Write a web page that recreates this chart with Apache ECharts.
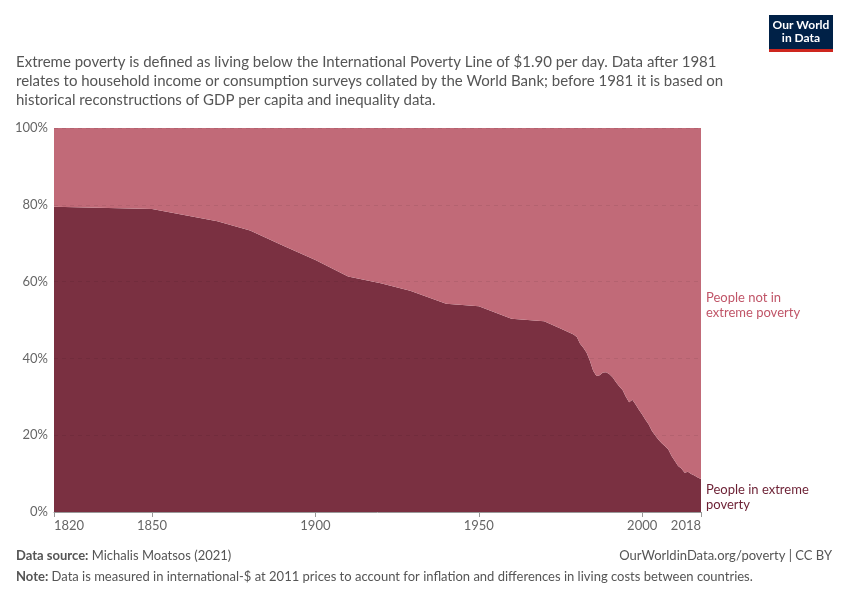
<!DOCTYPE html>
<html><head><meta charset="utf-8">
<script src="https://cdn.jsdelivr.net/npm/echarts@6/dist/echarts.min.js"></script>
<style>html,body{margin:0;padding:0;background:#fff}#c{width:850px;height:600px}</style>
</head><body><div id="c"></div>
<script>
const years = [1820,1850,1870,1880,1890,1900,1910,1920,1929,1940,1950,1960,1970,1975,1977,1978,1979,1980,1981,1982,1983,1984,1985,1986,1987,1988,1989,1990,1991,1992,1993,1994,1995,1996,1997,1998,1999,2000,2001,2002,2003,2004,2005,2006,2007,2008,2009,2010,2011,2012,2013,2014,2015,2016,2017,2018];
const inPoverty = [79.5,78.9,75.7,73.3,69.4,65.6,61.3,59.6,57.6,54.2,53.6,50.3,49.7,47.8,47.0,46.6,46.2,45.6,43.8,42.8,41.5,39.4,36.8,35.4,35.6,36.3,36.4,35.9,35.0,33.8,32.7,31.8,30.0,28.6,29.2,28.0,26.6,25.4,24.0,22.8,21.1,19.9,18.8,17.9,17.1,16.3,14.6,13.3,12.0,11.3,10.2,10.5,9.9,9.5,9.0,8.6];
const xTickLabels = [1820,1850,1900,1950,2000,2018];
const yTicks = [0,20,40,60,80,100];

const font = 'Lato, "Open Sans", sans-serif';
const pts = years.map((y,i)=>[y,inPoverty[i]]);
const chart = echarts.init(document.getElementById('c'), null, {renderer:'canvas'});
const staticGraphics = [
    {type:'text',left:16,top:53,style:{text:'Extreme poverty is defined as living below the International Poverty Line of $1.90 per day. Data after 1981\nrelates to household income or consumption surveys collated by the World Bank; before 1981 it is based on\nhistorical reconstructions of GDP per capita and inequality data.',fill:'#555',font:'15px '+font,lineHeight:19}},
    {type:'group',right:17,top:15,children:[
      {type:'rect',shape:{x:0,y:0,width:64,height:34},style:{fill:'#002147'}},
      {type:'rect',shape:{x:0,y:34,width:64,height:3},style:{fill:'#ce261e'}},
      {type:'text',x:32,y:4,style:{text:'Our World\nin Data',fill:'#fff',font:'bold 12px '+font,align:'center',lineHeight:13}}
    ]},
    {type:'text',left:706,top:290,style:{text:'People not in\nextreme poverty',fill:'#c05568',font:'13px '+font,lineHeight:15}},
    {type:'text',left:706,top:482,style:{text:'People in extreme\npoverty',fill:'#6b1f33',font:'13px '+font,lineHeight:15}},
    {type:'text',left:16,top:549,style:{rich:{b:{fill:'#555',font:'bold 13px '+font},n:{fill:'#555',font:'13px '+font}},text:'{b|Data source:} {n|Michalis Moatsos (2021)}'}},
    {type:'text',right:18,top:549,style:{text:'OurWorldinData.org/poverty | CC BY',fill:'#555',font:'13px '+font}},
    {type:'text',left:16,top:570,style:{rich:{b:{fill:'#555',font:'bold 13px '+font},n:{fill:'#555',font:'13px '+font}},text:'{b|Note:} {n|Data is measured in international-$ at 2011 prices to account for inflation and differences in living costs between countries.}'}}
];
chart.setOption({
  animation:false,
  textStyle:{fontFamily:font},
  grid:{left:54,right:149,top:128,bottom:88,containLabel:false},
  xAxis:{type:'value',min:1820,max:2018,
    axisLine:{show:true,lineStyle:{color:'#999',width:1}},
    axisTick:{show:false},
    axisLabel:{customValues:xTickLabels,color:'#666',fontSize:13,fontFamily:font,margin:7,
      alignMinLabel:'left',alignMaxLabel:'right',formatter:v=>String(v)},
    splitLine:{show:false}},
  yAxis:{type:'value',min:0,max:100,interval:20,
    axisLine:{show:false},axisTick:{show:false},
    axisLabel:{color:'#666',fontSize:13,fontFamily:font,margin:6,formatter:v=>v+'%'},
    splitLine:{show:false}},
  series:[
    {name:'People in extreme poverty',type:'line',data:pts,
      symbol:'none',lineStyle:{width:0},areaStyle:{color:'#7a3041',opacity:1,origin:'start'},z:2},
    {name:'People not in extreme poverty',type:'line',data:pts,
      symbol:'none',lineStyle:{width:0},areaStyle:{color:'#c16a78',opacity:1,origin:'end'},z:3,
      markLine:{silent:true,symbol:'none',label:{show:false},
        lineStyle:{type:[4,4],color:'rgba(0,0,0,0.07)',width:1},
        data:yTicks.slice(1).map(v=>({yAxis:v}))}}
  ],
  graphic:staticGraphics
});
// axis ticks placed through the chart's own x scale
const tickGraphics = xTickLabels.map(v=>{
  const p = chart.convertToPixel({gridIndex:0},[v,0]);
  const x = Math.round(p[0])+0.5;
  return {type:'line',shape:{x1:x,y1:p[1],x2:x,y2:p[1]+5},style:{stroke:'#999',lineWidth:1},z:10};
});
chart.setOption({graphic:staticGraphics.concat(tickGraphics)});
</script></body></html>
